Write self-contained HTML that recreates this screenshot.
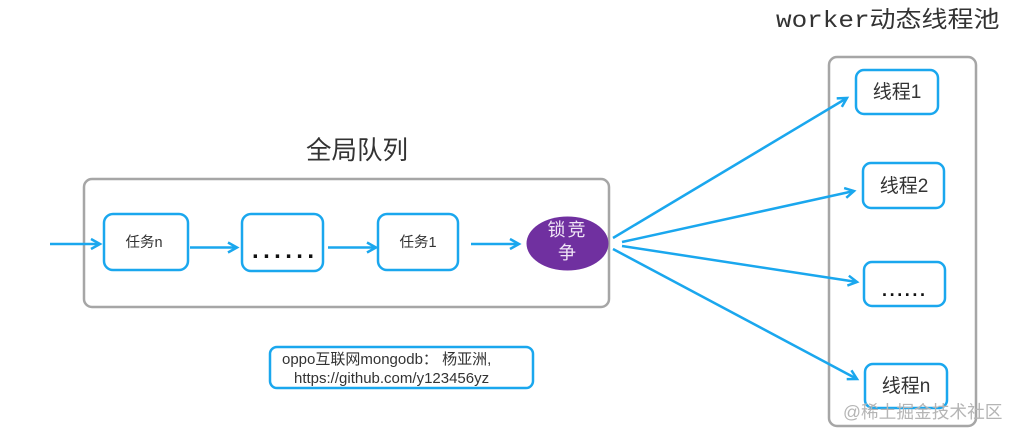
<!DOCTYPE html>
<html>
<head>
<meta charset="utf-8">
<style>
html,body{margin:0;padding:0;background:#fff}
svg{display:block;filter:blur(.35px)}
text{font-family:"Liberation Sans","Noto Sans CJK SC",sans-serif;fill:#333}
</style>
</head>
<body>
<svg width="1019" height="437" viewBox="0 0 1019 437" xmlns="http://www.w3.org/2000/svg">
<defs>
<marker id="a" markerWidth="14" markerHeight="14" refX="11" refY="7" orient="auto" markerUnits="userSpaceOnUse">
<path d="M2 2 L11 7 L2 12" fill="none" stroke="#1aa7ee" stroke-width="2.5"/>
</marker>
</defs>
<rect width="1019" height="437" fill="#fff"/>
<rect x="84" y="179" width="525" height="128" rx="8" fill="#fff" stroke="#a6a6a6" stroke-width="2.5"/>
<rect x="829" y="57" width="147" height="369" rx="8" fill="#fff" stroke="#a6a6a6" stroke-width="2.5"/>
<g fill="#fff" stroke="#1aa7ee" stroke-width="2.5">
<rect x="104" y="214" width="84" height="56" rx="9"/>
<rect x="242" y="214" width="81" height="57" rx="9"/>
<rect x="378" y="214" width="80" height="56" rx="9"/>
<rect x="856" y="70" width="82" height="44" rx="8"/>
<rect x="863" y="163" width="81" height="45" rx="8"/>
<rect x="864" y="262" width="81" height="44" rx="8"/>
<rect x="865" y="364" width="82" height="44" rx="8"/>
<rect x="270" y="347" width="263" height="41" rx="7"/>
</g>
<g stroke="#1aa7ee" stroke-width="2.5" fill="none">
<line x1="50" y1="244" x2="100" y2="244" marker-end="url(#a)"/>
<line x1="190" y1="247.5" x2="237" y2="247.5" marker-end="url(#a)"/>
<line x1="328" y1="247.5" x2="376" y2="247.5" marker-end="url(#a)"/>
<line x1="471" y1="244" x2="519" y2="244" marker-end="url(#a)"/>
<line x1="613" y1="238" x2="847" y2="98" marker-end="url(#a)"/>
<line x1="622" y1="242" x2="854" y2="191" marker-end="url(#a)"/>
<line x1="622" y1="246" x2="857" y2="282" marker-end="url(#a)"/>
<line x1="613" y1="249" x2="857" y2="379" marker-end="url(#a)"/>
</g>
<ellipse cx="567.5" cy="243.5" rx="41" ry="27" fill="#7030a0"/>
<text x="567.5" y="236" font-size="18" letter-spacing="2" text-anchor="middle" style="fill:#efe4f5">锁竞</text>
<text x="567" y="259" font-size="18" text-anchor="middle" style="fill:#efe4f5">争</text>
<text x="144" y="247" font-size="14.5" text-anchor="middle">任务n</text>
<text x="252" y="258" font-size="24" font-weight="700" letter-spacing="4.4" style="fill:#111">......</text>
<text x="418" y="247" font-size="14.5" text-anchor="middle">任务1</text>
<text x="897" y="98" font-size="19" text-anchor="middle">线程1</text>
<text x="904" y="192" font-size="19" text-anchor="middle">线程2</text>
<text x="882" y="296" font-size="18" font-weight="700" letter-spacing="2.6" style="fill:#111">......</text>
<text x="906" y="392" font-size="19" text-anchor="middle">线程n</text>
<text x="357" y="159" font-size="25.5" text-anchor="middle">全局队列</text>
<text transform="translate(776 27) scale(1.13 1)" x="0" y="0" font-size="23" style="font-family:'Liberation Mono','Noto Sans CJK SC',monospace">worker动态线程池</text>
<text x="282" y="364" font-size="15">oppo互联网mongodb： 杨亚洲,</text>
<text x="294" y="383" font-size="15">https://github.com/y123456yz</text>
<text x="843" y="418" font-size="17.7" style="fill:#b5b5b5">@稀土掘金技术社区</text>
</svg>
</body>
</html>
